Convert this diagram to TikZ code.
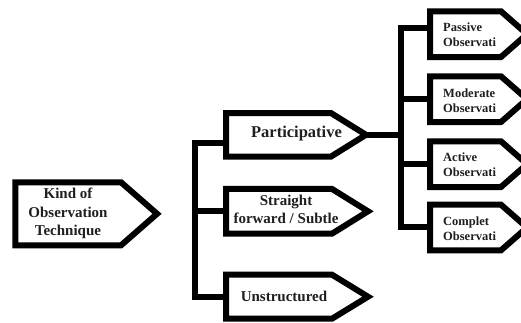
\documentclass[tikz,border=0pt]{standalone}
\usepackage{fontspec}
\setmainfont{Liberation Serif}
\usetikzlibrary{calc}
\tikzset{
  boxpart/.style={shape=rectangle,draw=none,inner sep=0pt,outer sep=0pt},
  outline/.style={draw=black,line width=6pt,line join=miter,fill=white},
  conn/.style={draw=black,line width=6pt,line join=miter},
  bigtxt/.style={font=\fontsize{15}{18.5}\selectfont\bfseries,align=center,inner sep=0pt,text=black!88},
  smalltxt/.style={font=\fontsize{12.5}{15}\selectfont\bfseries,align=left,inner sep=0pt,anchor=west,text=black!88}
}
\newcommand{\arrowoutline}[2]{\draw[outline] (#1.north west) -- (#1.north east) -- ($(#1.east)+(#2,0)$) coordinate (#1tip) -- (#1.south east) -- (#1.south west) -- cycle;}
\begin{document}
\begin{tikzpicture}[x=1pt,y=-1pt]
\useasboundingbox (0,0) rectangle (521,322);
\begin{scope}
\clip (0,0) rectangle (521,322);
% boxes
\node[boxpart,minimum width=105.7pt,minimum height=63pt] (kind) at (68.2,213.8) {};
\arrowoutline{kind}{36}
\node[boxpart,minimum width=105pt,minimum height=43.5pt] (part) at (278.5,134.8) {};
\arrowoutline{part}{35}
\node[boxpart,minimum width=106pt,minimum height=44.7pt] (strt) at (279,211.3) {};
\arrowoutline{strt}{36}
\node[boxpart,minimum width=106pt,minimum height=44pt] (unst) at (279,296.7) {};
\arrowoutline{unst}{36}
\node[boxpart,minimum width=71pt,minimum height=45.7pt] (pass) at (465.5,34.15) {};
\arrowoutline{pass}{26}
\node[boxpart,minimum width=71pt,minimum height=45.7pt] (mode) at (465.5,99.15) {};
\arrowoutline{mode}{26}
\node[boxpart,minimum width=71pt,minimum height=45.7pt] (acti) at (465.5,164.15) {};
\arrowoutline{acti}{26}
\node[boxpart,minimum width=71pt,minimum height=45.6pt] (comp) at (465.5,227.5) {};
\arrowoutline{comp}{26}
% left trunk
\coordinate (lt) at (194.5,143);
\coordinate (lb) at (194.5,296.7);
\draw[conn] ($(lt -| part.west)+(-3,0)$) -- (lt) -- (lb) -- ($(lb -| unst.west)+(-3,0)$);
\draw[conn] (lt |- strt.west) -- ($(strt.west)+(-3,0)$);
% right trunk
\coordinate (rt) at (401,28);
\coordinate (rb) at (401,227);
\draw[conn] ($(rt -| pass.west)+(-3,0)$) -- (rt) -- (rb) -- ($(rb -| comp.west)+(-3,0)$);
\draw[conn] (parttip) -- (parttip -| rt);
\draw[conn] (rt |- mode.west) -- ($(mode.west)+(-3,0)$);
\draw[conn] (rt |- acti.west) -- ($(acti.west)+(-3,0)$);
% texts
\node[bigtxt] (kindT) at (68,213.5) {Kind of\\Observation\\Technique};
\node[bigtxt,font=\fontsize{16.5}{18.5}\selectfont\bfseries] (partT) at (296.5,133.5) {Participative};
\node[bigtxt] (strtT) at (286,209.5) {Straight\\forward / Subtle};
\node[bigtxt] (unstT) at (284,296.5) {Unstructured};
\node[smalltxt] (passT) at (443,34.5) {Passive\\Observati};
\node[smalltxt] (modeT) at (443,100.5) {Moderate\\Observati};
\node[smalltxt] (actiT) at (443,165) {Active\\Observati};
\node[smalltxt] (compT) at (443,229) {Complet\\Observati};
\end{scope}
\end{tikzpicture}
\end{document}
